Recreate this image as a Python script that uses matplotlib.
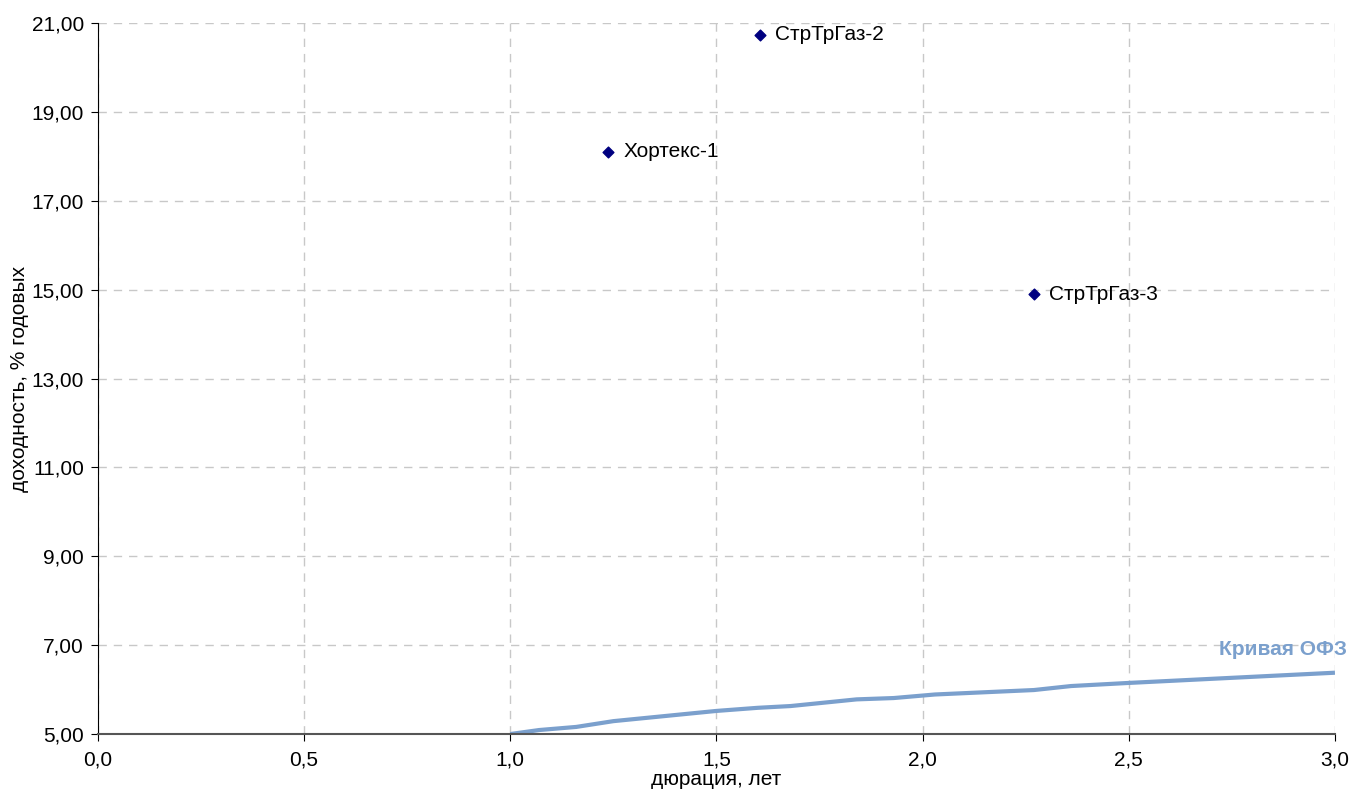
import matplotlib
matplotlib.use("Agg")
import matplotlib.pyplot as plt
from matplotlib.ticker import FuncFormatter

plt.rcParams['font.family'] = ['Liberation Sans', 'DejaVu Sans']

# Bonds: duration (years) vs yield (% p.a.)
bond_names = ['Хортекс-1', 'СтрТрГаз-2', 'СтрТрГаз-3']
bond_dur = [1.237, 1.606, 2.270]
bond_yield = [18.10, 20.73, 14.90]

# OFZ curve
ofz_dur = [1.0, 1.07, 1.16, 1.25, 1.50, 1.60, 1.68, 1.84, 1.93, 2.03, 2.27, 2.36, 2.50, 3.0]
ofz_yield = [5.0, 5.09, 5.16, 5.29, 5.52, 5.59, 5.63, 5.78, 5.81, 5.89, 5.99, 6.08, 6.15, 6.38]

x_ticks = [0.0, 0.5, 1.0, 1.5, 2.0, 2.5, 3.0]
y_ticks = [5, 7, 9, 11, 13, 15, 17, 19, 21]

fig = plt.figure(figsize=(13.64, 8.01), dpi=100)
ax = fig.add_axes([0.0718, 0.0836, 0.9069, 0.8877])

ax.plot(ofz_dur, ofz_yield, color='#7BA0CD', lw=3, solid_capstyle='butt')
ax.text(3.03, 6.9, 'Кривая ОФЗ', color='#7BA0CD', fontsize=15, fontweight='bold',
        ha='right', va='center', clip_on=False)

ax.scatter(bond_dur, bond_yield, marker='D', s=30, color='#000080', zorder=3)
for name, x, y in zip(bond_names, bond_dur, bond_yield):
    ax.annotate(name, (x, y), xytext=(11, 0), textcoords='offset points',
                fontsize=15, va='center', ha='left')

ax.set_xlim(0, 3)
ax.set_ylim(5, 21)
ax.set_xticks(x_ticks)
ax.set_yticks(y_ticks)
ax.xaxis.set_major_formatter(FuncFormatter(lambda v, p: f'{v:.1f}'.replace('.', ',')))
ax.yaxis.set_major_formatter(FuncFormatter(lambda v, p: f'{v:.2f}'.replace('.', ',')))
ax.tick_params(labelsize=15, length=5, direction='out', colors='black')
ax.tick_params(axis='x', pad=7)
ax.tick_params(axis='y', pad=5)

ax.grid(True, color='#C8C8C8', linestyle=(0, (6, 5)), linewidth=1)
ax.set_axisbelow(True)
for s in ['top', 'right']:
    ax.spines[s].set_visible(False)
ax.spines['left'].set_color('black')
ax.spines['bottom'].set_color('#555555')
ax.spines['bottom'].set_linewidth(1.5)

ax.set_xlabel('дюрация, лет', fontsize=15, labelpad=0)
ax.set_ylabel('доходность, % годовых', fontsize=15, labelpad=2)

fig.savefig('out.png', dpi=100)
